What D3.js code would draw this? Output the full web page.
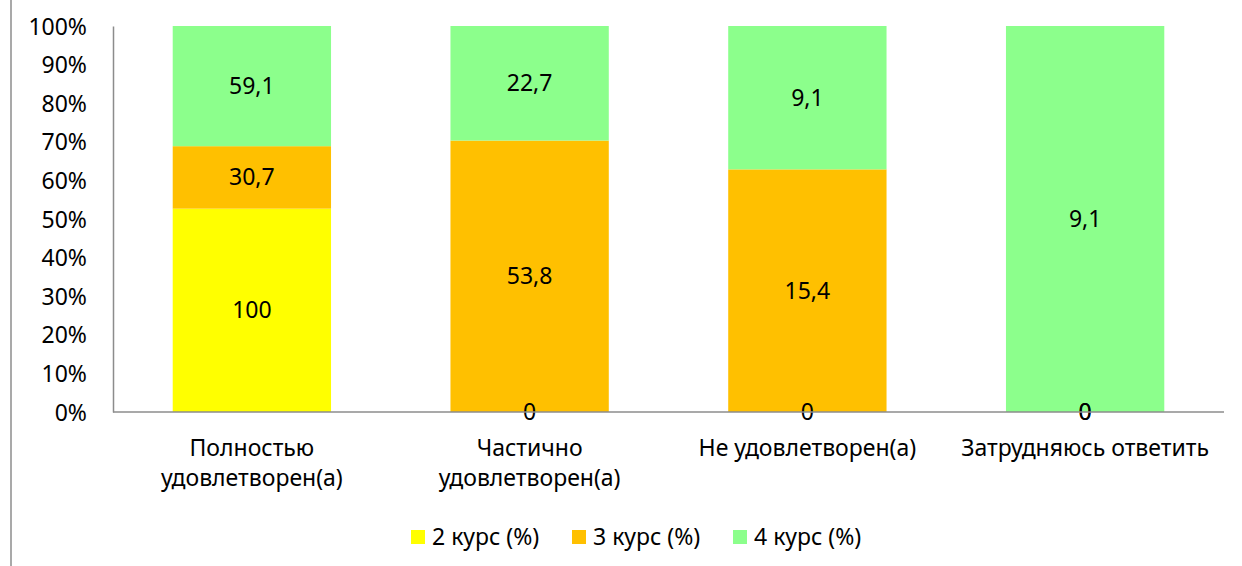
<!DOCTYPE html>
<html>
<head>
<meta charset="utf-8">
<script src="https://cdn.jsdelivr.net/npm/d3@7"></script>
<style>
  body { margin: 0; background: #fff; }
  svg text { font-family: "Noto Sans", "Open Sans", sans-serif; fill: #000; }
</style>
</head>
<body>
<div id="chart"></div>
<script>
// data
const categories = [
  ["Полностью", "удовлетворен(а)"],
  ["Частично", "удовлетворен(а)"],
  ["Не удовлетворен(а)"],
  ["Затрудняюсь ответить"]
];
const seriesNames = ["2 курс (%)", "3 курс (%)", "4 курс (%)"];
const course2 = [100, 0, 0, 0];
const course3 = [30.7, 53.8, 15.4, 0];
const course4 = [59.1, 22.7, 9.1, 9.1];
const yTicks = [0, 0.1, 0.2, 0.3, 0.4, 0.5, 0.6, 0.7, 0.8, 0.9, 1];
const colors = ["#FFFF00", "#FFC000", "#8CFF8C"];

const width = 1242, height = 566;
const margin = { top: 26, left: 113, right: 18, bottom: 154 };
const fs = "23px";

const svg = d3.select("#chart").append("svg")
  .attr("width", width).attr("height", height);

// outer frame, only left edge visible
svg.append("line")
  .attr("x1", 11).attr("x2", 11).attr("y1", 0).attr("y2", height)
  .attr("stroke", "#8c8c8c").attr("stroke-width", 1.5);

const x = d3.scaleBand()
  .domain(d3.range(categories.length))
  .range([margin.left, width - margin.right])
  .paddingInner(0.43).paddingOuter(0.215);

const y = d3.scaleLinear().domain([0, 1])
  .range([height - margin.bottom, margin.top]);

const rows = categories.map((c, i) => {
  const vals = [course2[i], course3[i], course4[i]];
  const total = d3.sum(vals);
  return { i, vals, total };
});

const stack = d3.stack().keys([0, 1, 2])
  .value((d, k) => d.total ? d.vals[k] / d.total : 0);
const layers = stack(rows);

const g = svg.append("g");
layers.forEach((layer, k) => {
  g.selectAll(null).data(layer).join("rect")
    .attr("x", d => x(d.data.i))
    .attr("width", x.bandwidth())
    .attr("y", d => y(d[1]))
    .attr("height", d => y(d[0]) - y(d[1]))
    .attr("fill", colors[k]);
});

// axes
const yAxis = d3.axisLeft(y).tickValues(yTicks)
  .tickSize(0).tickPadding(26)
  .tickFormat(d => Math.round(d * 100) + "%");
const ya = svg.append("g").attr("transform", `translate(${margin.left},0)`).call(yAxis);
ya.select(".domain").attr("stroke", "#8c8c8c").attr("stroke-width", 1.5);
ya.selectAll("text").style("font-size", fs).attr("dy", "0.35em");

svg.append("line")
  .attr("x1", margin.left).attr("x2", width - margin.right)
  .attr("y1", y(0)).attr("y2", y(0))
  .attr("stroke", "#8c8c8c").attr("stroke-width", 1.5);

// data labels
layers.forEach((layer, k) => {
  g.selectAll(null).data(layer).join("text")
    .attr("x", d => x(d.data.i) + x.bandwidth() / 2)
    .attr("y", d => y((d[0] + d[1]) / 2))
    .attr("text-anchor", "middle")
    .attr("dy", "0.35em")
    .style("font-size", fs)
    .text(d => String(d.data.vals[k]).replace(".", ","));
});

// category labels
const cl = svg.append("g").selectAll("text").data(categories).join("text")
  .attr("text-anchor", "middle")
  .style("font-size", fs)
  .attr("x", (d, i) => x(i) + x.bandwidth() / 2)
  .attr("y", 456);
cl.selectAll("tspan").data(d => d).join("tspan")
  .attr("x", function () { return this.parentNode.getAttribute("x"); })
  .attr("dy", (d, j) => j ? 30 : 0)
  .text(d => d);

// legend
const legendX = [411, 572, 733];
const lg = svg.append("g").selectAll("g").data(seriesNames).join("g")
  .attr("transform", (d, i) => `translate(${legendX[i]},537)`);
lg.append("rect").attr("x", 0).attr("y", -7).attr("width", 14).attr("height", 14)
  .attr("fill", (d, i) => colors[i]);
lg.append("text").attr("x", 21).attr("dy", "0.35em")
  .style("font-size", fs).text(d => d);
</script>
</body>
</html>
